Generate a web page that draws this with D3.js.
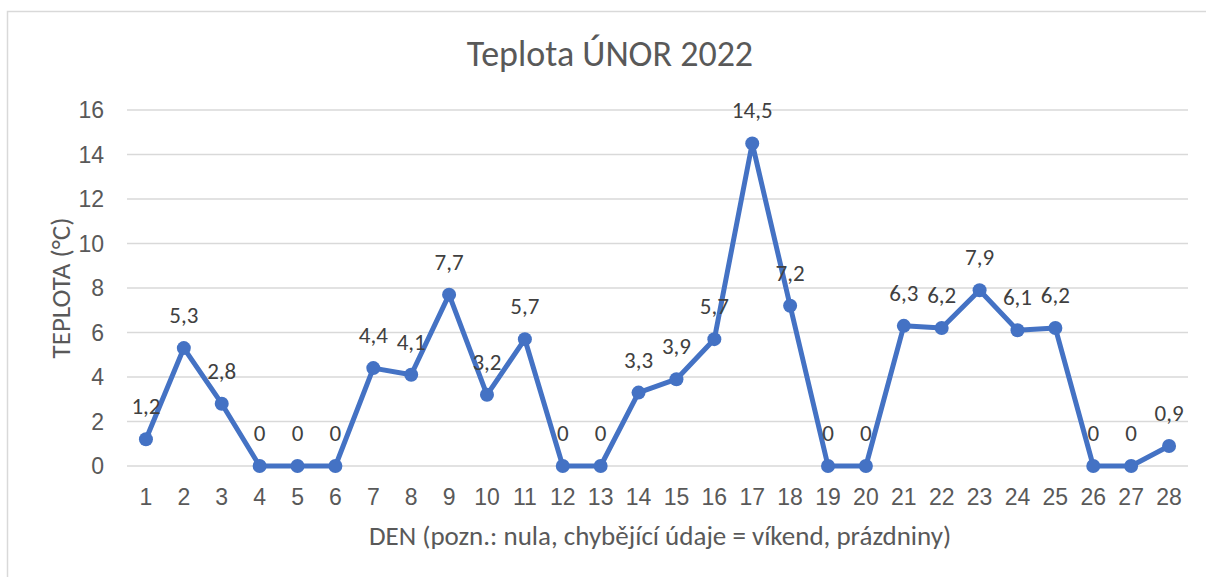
<!DOCTYPE html>
<html>
<head>
<meta charset="utf-8">
<script src="https://cdn.jsdelivr.net/npm/d3@7"></script>
<style>
  body { margin: 0; background: #fff; }
  svg { font-family: Carlito, Calibri, "Open Sans", sans-serif; }
</style>
</head>
<body>
<svg id="chart" width="1206" height="577"></svg>
<script>
// data
const days = d3.range(1, 29);
const temps = [1.2, 5.3, 2.8, 0, 0, 0, 4.4, 4.1, 7.7, 3.2, 5.7, 0, 0, 3.3, 3.9, 5.7,
               14.5, 7.2, 0, 0, 6.3, 6.2, 7.9, 6.1, 6.2, 0, 0, 0.9];
const yTicks = [0, 2, 4, 6, 8, 10, 12, 14, 16];

const title = "Teplota ÚNOR 2022";
const xTitle = "DEN (pozn.: nula, chybějící údaje = víkend, prázdniny)";
const yTitle = "TEPLOTA (°C)";

const data = days.map((d, i) => ({ day: d, t: temps[i] }));

const plot = { left: 127, right: 1188, top: 110, bottom: 466 };
const svg = d3.select("#chart");

// chart frame (Excel style, runs off right/bottom)
svg.append("rect")
  .attr("x", 7.5).attr("y", 11.5)
  .attr("width", 1260).attr("height", 640)
  .attr("fill", "#fff")
  .attr("stroke", "#d9d9d9")
  .attr("stroke-width", 1.5);

const x = d3.scaleBand()
  .domain(days)
  .range([plot.left, plot.right]);

const y = d3.scaleLinear()
  .domain([0, 16])
  .range([plot.bottom, plot.top]);

// gridlines
svg.append("g")
  .attr("class", "grid")
  .selectAll("line")
  .data(yTicks)
  .join("line")
  .attr("x1", plot.left)
  .attr("x2", plot.right)
  .attr("y1", d => y(d))
  .attr("y2", d => y(d))
  .attr("stroke", "#d9d9d9")
  .attr("stroke-width", 1.3);

// y axis labels
const yAxis = svg.append("g")
  .attr("transform", `translate(104, 0)`)
  .call(d3.axisLeft(y).tickValues(yTicks).tickSize(0).tickPadding(0));
yAxis.select(".domain").remove();
yAxis.selectAll("text")
  .attr("fill", "#595959")
  .attr("dy", "0.33em")
  .style("font-size", "23px")
  .style("font-family", "inherit");

// x axis labels
const xAxis = svg.append("g")
  .attr("transform", `translate(0, ${plot.bottom})`)
  .call(d3.axisBottom(x).tickSize(0).tickPadding(0));
xAxis.select(".domain").remove();
xAxis.selectAll("text")
  .attr("fill", "#595959")
  .attr("y", 39)
  .attr("dy", 0)
  .style("font-size", "23px")
  .style("font-family", "inherit");

const cx = d => x(d.day) + x.bandwidth() / 2;

// the line
svg.append("path")
  .datum(data)
  .attr("fill", "none")
  .attr("stroke", "#4472c4")
  .attr("stroke-width", 5)
  .attr("stroke-linejoin", "round")
  .attr("d", d3.line().x(cx).y(d => y(d.t)));

// markers
svg.append("g")
  .selectAll("circle")
  .data(data)
  .join("circle")
  .attr("cx", cx)
  .attr("cy", d => y(d.t))
  .attr("r", 7)
  .attr("fill", "#4472c4");

// data labels
svg.append("g")
  .selectAll("text")
  .data(data)
  .join("text")
  .attr("x", cx)
  .attr("y", d => y(d.t) - 25)
  .attr("text-anchor", "middle")
  .attr("fill", "#404040")
  .style("font-size", "23px")
  .text(d => String(d.t).replace(".", ","));

// titles
svg.append("text")
  .attr("x", 610)
  .attr("y", 66)
  .attr("text-anchor", "middle")
  .attr("fill", "#595959")
  .style("font-size", "36px")
  .text(title);

svg.append("text")
  .attr("x", 660)
  .attr("y", 545)
  .attr("text-anchor", "middle")
  .attr("fill", "#595959")
  .style("font-size", "27px")
  .text(xTitle);

svg.append("text")
  .attr("transform", `translate(70, 288) rotate(-90)`)
  .attr("text-anchor", "middle")
  .attr("fill", "#595959")
  .style("font-size", "27px")
  .text(yTitle);
</script>
</body>
</html>
